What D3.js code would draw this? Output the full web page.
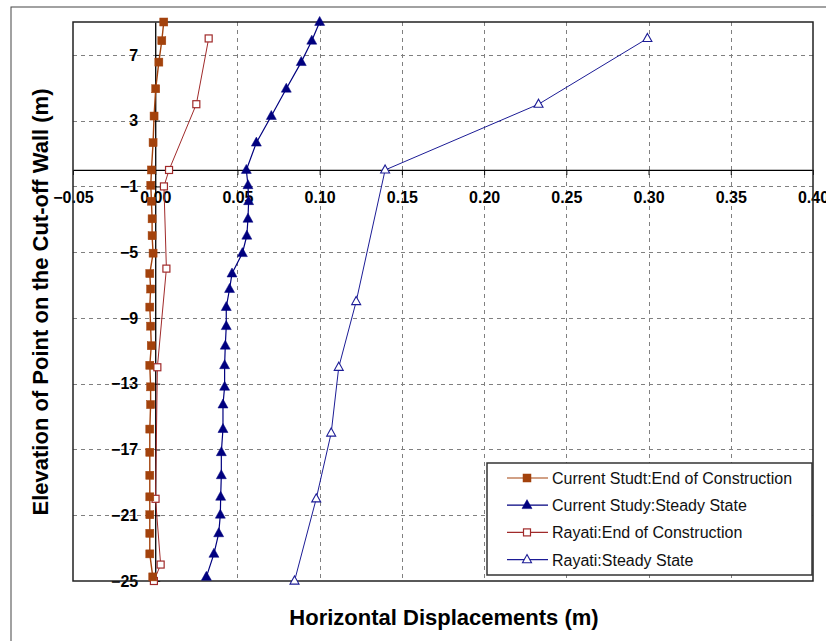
<!DOCTYPE html>
<html>
<head>
<meta charset="utf-8">
<script src="https://cdn.jsdelivr.net/npm/d3@7"></script>
<style>
  html, body { margin: 0; padding: 0; background: #fff; }
  svg { display: block; font-family: Arial, "Liberation Sans", sans-serif; }
</style>
</head>
<body>
<svg id="chart" width="826" height="641"></svg>
<script>
// ---------------- DATA ----------------
const xTicks = [-0.05, 0.00, 0.05, 0.10, 0.15, 0.20, 0.25, 0.30, 0.35, 0.40];
const yTicks = [7, 3, -1, -5, -9, -13, -17, -21, -25];

// Current study elevations (m)
const currentElev = [9, 7.86, 6.56, 4.94, 3.28, 1.66, 0, -0.93, -1.9, -2.97, -4.0, -5.06, -6.3, -7.24,
  -8.34, -9.5, -10.69, -11.88, -13.19, -14.27, -15.76, -17.17, -18.57, -19.88, -20.97, -22.1, -23.35, -24.75];
// Current Studt: End of Construction (m)
const currentEOC = [0.0052, 0.0040, 0.0022, 0.0003, -0.0007, -0.0013, -0.0023, -0.0027, -0.0023, -0.0019,
  -0.0019, -0.0013, -0.0033, -0.0028, -0.0033, -0.0028, -0.0024, -0.0033, -0.0028, -0.0028, -0.0033,
  -0.0033, -0.0033, -0.0033, -0.0033, -0.0033, -0.0033, -0.0015];
// Current Study: Steady State (m)
const currentSS = [0.1000, 0.0952, 0.0888, 0.0797, 0.0706, 0.0615, 0.0554, 0.0564, 0.0568, 0.0564,
  0.0557, 0.0530, 0.0467, 0.0452, 0.0432, 0.0432, 0.0426, 0.0422, 0.0422, 0.0412, 0.0412, 0.0402,
  0.0402, 0.0398, 0.0396, 0.0386, 0.0357, 0.0311];

// Rayati: End of Construction
const rayatiEOCElev = [8, 4, 0, -1, -6, -12, -20, -24, -25];
const rayatiEOC = [0.0325, 0.0250, 0.0084, 0.0053, 0.0068, 0.0013, 0.0002, 0.0033, -0.0008];
// Rayati: Steady State
const rayatiSSElev = [8, 4, 0, -8, -12, -16, -20, -25];
const rayatiSS = [0.2993, 0.2331, 0.1398, 0.1222, 0.1116, 0.1070, 0.0979, 0.0847];

const seriesNames = ["Current Studt:End of Construction", "Current Study:Steady State",
  "Rayati:End of Construction", "Rayati:Steady State"];

// ---------------- LAYOUT ----------------
const svg = d3.select("#chart");
const L = 73, R = 813, T = 22, B = 581;
const x = d3.scaleLinear().domain([-0.05, 0.40]).range([L, R]);
const y = d3.scaleLinear().domain([-25, 9]).range([B, T]);

// outer frame
svg.append("rect").attr("x", 11).attr("y", 7).attr("width", 830).attr("height", 650)
  .attr("fill", "#fff").attr("stroke", "#444").attr("stroke-width", 1);

// plot background
svg.append("rect").attr("x", L).attr("y", T).attr("width", R - L).attr("height", B - T)
  .attr("fill", "#fff");

// gridlines
const grid = svg.append("g").attr("stroke", "#808080").attr("stroke-width", 1)
  .attr("stroke-dasharray", "4,4");
xTicks.filter(v => v > -0.049 && Math.abs(v) > 1e-9 && v < 0.399).forEach(v => {
  grid.append("line").attr("x1", Math.round(x(v)) + 0.5).attr("x2", Math.round(x(v)) + 0.5)
    .attr("y1", T).attr("y2", B);
});
yTicks.filter(v => v > -24.9).forEach(v => {
  grid.append("line").attr("y1", Math.round(y(v)) + 0.5).attr("y2", Math.round(y(v)) + 0.5)
    .attr("x1", L).attr("x2", R);
});

// x axis at y = 0
const xAxis = d3.axisBottom(x).tickValues(xTicks).tickFormat(d3.format(".2f"))
  .tickSizeInner(5).tickSizeOuter(0).tickPadding(17);
const gx = svg.append("g").attr("transform", `translate(0,${y(0)})`).call(xAxis);
gx.select(".domain").attr("stroke", "#000").attr("stroke-width", 1.3);
gx.selectAll(".tick line").attr("stroke", "#000");
gx.selectAll(".tick text").attr("fill", "#000").attr("font-size", 16).attr("font-weight", "bold")
  .attr("font-family", "Arial, 'Liberation Sans', sans-serif");

// y axis at x = 0
const yAxis = d3.axisLeft(y).tickValues(yTicks).tickFormat(d3.format("d"))
  .tickSizeInner(-5).tickSizeOuter(0).tickPadding(17);
const gy = svg.append("g").attr("transform", `translate(${x(0)},0)`).call(yAxis);
gy.select(".domain").attr("stroke", "#000").attr("stroke-width", 1.3);
gy.selectAll(".tick line").attr("stroke", "#000");
gy.selectAll(".tick text").attr("fill", "#000").attr("font-size", 16).attr("font-weight", "bold")
  .attr("font-family", "Arial, 'Liberation Sans', sans-serif");

// plot frame
svg.append("rect").attr("x", L).attr("y", T).attr("width", R - L).attr("height", B - T)
  .attr("fill", "none").attr("stroke", "#222").attr("stroke-width", 1.5);

// ---------------- SERIES ----------------
const line = d3.line().x(d => x(d[0])).y(d => y(d[1]));
const zip = (xs, ys) => xs.map((v, i) => [v, ys[i]]);

const series = [
  { name: seriesNames[3], pts: zip(rayatiSS, rayatiSSElev), color: "#1c1c96", lw: 1, marker: "triOpen" },
  { name: seriesNames[1], pts: zip(currentSS, currentElev), color: "#00007f", lw: 1.2, marker: "triFill" },
  { name: seriesNames[2], pts: zip(rayatiEOC, rayatiEOCElev), color: "#a02a2a", lw: 1, marker: "sqOpen" },
  { name: seriesNames[0], pts: zip(currentEOC, currentElev), color: "#a3420c", lw: 1.4, marker: "sqFill" }
];

const triPath = (s) => { const h = s * 0.9; return `M0,${-h * 0.62} L${s / 2},${h * 0.38} L${-s / 2},${h * 0.38} Z`; };

function drawMarker(g, type, color, cx, cy) {
  if (type === "sqFill") {
    g.append("rect").attr("x", cx - 4).attr("y", cy - 4).attr("width", 8).attr("height", 8)
      .attr("fill", color).attr("stroke", color).attr("stroke-width", 0.5);
  } else if (type === "sqOpen") {
    g.append("rect").attr("x", cx - 3.5).attr("y", cy - 3.5).attr("width", 7).attr("height", 7)
      .attr("fill", "#fff").attr("stroke", color).attr("stroke-width", 1.2);
  } else if (type === "triFill") {
    g.append("path").attr("d", triPath(10)).attr("transform", `translate(${cx},${cy})`)
      .attr("fill", color).attr("stroke", color).attr("stroke-width", 0.5);
  } else {
    g.append("path").attr("d", triPath(9)).attr("transform", `translate(${cx},${cy})`)
      .attr("fill", "#fff").attr("stroke", color).attr("stroke-width", 1.1);
  }
}

series.forEach(s => {
  const g = svg.append("g");
  g.append("path").datum(s.pts).attr("d", line).attr("fill", "none")
    .attr("stroke", s.color).attr("stroke-width", s.lw);
  s.pts.forEach(p => drawMarker(g, s.marker, s.color, x(p[0]), y(p[1])));
});

// ---------------- LEGEND ----------------
const legend = svg.append("g");
legend.append("rect").attr("x", 487).attr("y", 463).attr("width", 325).attr("height", 112)
  .attr("fill", "#fff").attr("stroke", "#333").attr("stroke-width", 1.5);
const legendOrder = [series[3], series[1], series[2], series[0]];
legendOrder.forEach((s, i) => {
  const ly = 478 + i * 27.2;
  legend.append("line").attr("x1", 507).attr("x2", 548).attr("y1", ly).attr("y2", ly)
    .attr("stroke", s.color).attr("stroke-width", 1.2);
  drawMarker(legend, s.marker, s.color, 527, ly);
  legend.append("text").attr("x", 552).attr("y", ly + 6).text(s.name)
    .attr("font-size", 16).attr("fill", "#111");
});

// ---------------- AXIS TITLES ----------------
svg.append("text").attr("x", 444).attr("y", 625).attr("text-anchor", "middle")
  .attr("font-size", 22).attr("font-weight", "bold").attr("fill", "#000")
  .text("Horizontal Displacements (m)");
svg.append("text").attr("transform", "translate(48,302) rotate(-90)").attr("text-anchor", "middle")
  .attr("font-size", 22).attr("font-weight", "bold").attr("fill", "#000")
  .text("Elevation of Point on the Cut-off Wall (m)");
</script>
</body>
</html>
